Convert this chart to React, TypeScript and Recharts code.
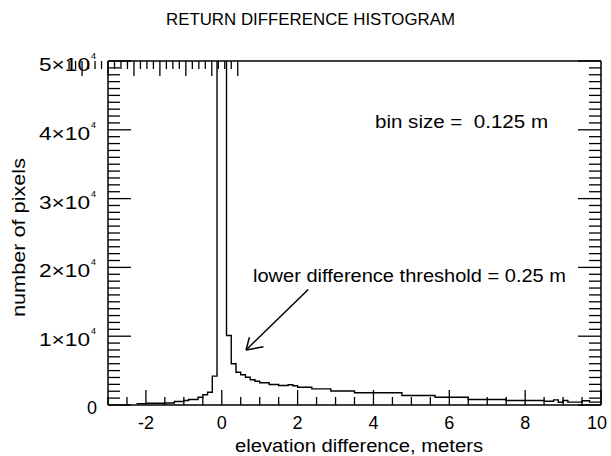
import React from "react";
import { LineChart, Line, XAxis, YAxis, ReferenceLine } from "recharts";

const FONT = "'Liberation Sans', Arial, Helvetica, sans-serif";

// histogram steps: left edge of each step and its count (last point closes the step at x = 10)
const binStart = [
  -2.25, -2, -1.5, -1.25, -1, -0.875, -0.625, -0.5, -0.375, -0.25, -0.125, 0.125, 0.25, 0.375, 0.5,
  0.625, 0.75, 0.875, 1, 1.25, 1.5, 1.75, 1.875, 2, 2.375, 2.875, 3.5, 4.75, 5.625, 6.5, 7.5, 8.5,
  8.75, 8.875, 9, 9.125, 9.5, 9.7, 10
];
const binCount = [
  200, 250, 300, 510, 650, 800, 1130, 1480, 1860, 4190, 200000, 10100, 5990, 4770, 4390,
  4040, 3660, 3460, 3230, 2980, 2830, 2950, 2790, 2590, 2350, 2030, 1770, 1380, 1130, 800, 650, 550,
  750, 400, 650, 420, 620, 420, 420
];

const xTicks = [
  -3, -2.5, -2, -1.5, -1, -0.5, 0, 0.5, 1, 1.5, 2, 2.5, 3, 3.5, 4, 4.5, 5, 5.5, 6, 6.5, 7, 7.5, 8,
  8.5, 9, 9.5, 10
];
const xMajorTicks = [-2, 0, 2, 4, 6, 8, 10];
const yTicks = Array.from({ length: 51 }, (_, i) => i * 1000);
const yMajorTicks = [0, 10000, 20000, 30000, 40000, 50000];
const yMajorMantissa = ["0", "1", "2", "3", "4", "5"];

// annotation arrow, in data units
const arrowTail = { x: 2.28, y: 16800 };
const arrowTip = { x: 0.64, y: 7990 };
const arrowBarbA = { x: 0.73, y: 9840 };
const arrowBarbB = { x: 1.1, y: 8470 };

const data = binStart.map((x, i) => ({ x, count: binCount[i] }));

const BottomTick = ({ x, y, payload }: any) => {
  const v = payload.value;
  const major = xMajorTicks.includes(v);
  return (
    <g>
      <line x1={x} x2={x} y1={y} y2={y - (major ? 15 : 8)} stroke="#000" strokeWidth={1.3} />
      {major && (
        <text x={v === 10 ? x - 4 : x} y={y + 24} textAnchor="middle" fontSize={18} fill="#000" fontFamily={FONT}>
          {v}
        </text>
      )}
    </g>
  );
};

const TopTick = ({ x, y, payload }: any) => {
  const major = xMajorTicks.includes(payload.value);
  return <line x1={x} x2={x} y1={y} y2={y + (major ? 15 : 8)} stroke="#000" strokeWidth={1.3} />;
};

const LeftTick = ({ x, y, payload }: any) => {
  const v = payload.value;
  const idx = yMajorTicks.indexOf(v);
  const major = idx >= 0;
  return (
    <g>
      <line x1={x} x2={x + (major ? 23 : 12)} y1={y} y2={y} stroke="#000" strokeWidth={1.3} />
      {major && v === 0 && (
        <text x={x - 11} y={y + 9} textAnchor="end" fontSize={18} fill="#000" fontFamily={FONT}>
          0
        </text>
      )}
      {major && v !== 0 && (
        <g fontFamily={FONT} fill="#000">
          <text x={x - 69} y={y + 10} fontSize={18} textLength={51} lengthAdjust="spacingAndGlyphs">
            {yMajorMantissa[idx] + "\u00d710"}
          </text>
          <text x={x - 17} y={y - 2} fontSize={9}>
            4
          </text>
        </g>
      )}
    </g>
  );
};

const RightTick = ({ x, y, payload }: any) => {
  const major = yMajorTicks.includes(payload.value);
  return <line x1={x} x2={x - (major ? 23 : 12)} y1={y} y2={y} stroke="#000" strokeWidth={1.3} />;
};

const axisStroke = { stroke: "#000", strokeWidth: 1.5 };

export default function App() {
  return (
    <div style={{ position: "absolute", left: 0, top: 0, width: 611, height: 456, background: "#fff" }}>
      <LineChart width={611} height={456} data={data} margin={{ top: 0, right: 0, bottom: 0, left: 0 }}>
        <XAxis
          dataKey="x"
          type="number"
          domain={[-3, 10]}
          allowDataOverflow
          ticks={xTicks}
          interval={0}
          tickSize={0}
          tickMargin={0}
          tick={BottomTick}
          axisLine={axisStroke}
          height={51}
        />
        <XAxis
          xAxisId="top"
          orientation="top"
          type="number"
          domain={[-3, 10]}
          allowDataOverflow
          ticks={xTicks}
          interval={0}
          tickSize={0}
          tickMargin={0}
          tick={TopTick}
          axisLine={axisStroke}
          height={61}
        />
        <YAxis
          type="number"
          domain={[0, 50000]}
          allowDataOverflow
          ticks={yTicks}
          interval={0}
          tickSize={0}
          tickMargin={0}
          tick={LeftTick}
          axisLine={axisStroke}
          width={108}
        />
        <YAxis
          yAxisId="right"
          orientation="right"
          type="number"
          domain={[0, 50000]}
          allowDataOverflow
          ticks={yTicks}
          interval={0}
          tickSize={0}
          tickMargin={0}
          tick={RightTick}
          axisLine={axisStroke}
          width={10}
        />
        <Line
          type="stepAfter"
          dataKey="count"
          stroke="#000"
          strokeWidth={1.4}
          dot={false}
          isAnimationActive={false}
        />
        <ReferenceLine segment={[arrowTail, arrowTip]} stroke="#000" strokeWidth={1.5} />
        <ReferenceLine segment={[arrowBarbA, arrowTip]} stroke="#000" strokeWidth={1.5} />
        <ReferenceLine segment={[arrowBarbB, arrowTip]} stroke="#000" strokeWidth={1.5} />
      </LineChart>
      <svg
        width={611}
        height={456}
        style={{ position: "absolute", left: 0, top: 0, pointerEvents: "none" }}
        fontFamily={FONT}
        fill="#000"
      >
        <text x={166} y={25} fontSize={17} textLength={289} lengthAdjust="spacingAndGlyphs">
          RETURN DIFFERENCE HISTOGRAM
        </text>
        <text x={375} y={128} fontSize={18} textLength={173} lengthAdjust="spacingAndGlyphs" style={{ whiteSpace: "pre" }}>
          {"bin size =  0.125 m"}
        </text>
        <text x={253} y={282} fontSize={18} textLength={313} lengthAdjust="spacingAndGlyphs">
          lower difference threshold = 0.25 m
        </text>
        <text x={235} y={452} fontSize={18} textLength={248} lengthAdjust="spacingAndGlyphs">
          elevation difference, meters
        </text>
        <text
          transform="translate(25 317) rotate(-90)"
          x={0}
          y={0}
          fontSize={19}
          textLength={159}
          lengthAdjust="spacingAndGlyphs"
        >
          number of pixels
        </text>
      </svg>
    </div>
  );
}
